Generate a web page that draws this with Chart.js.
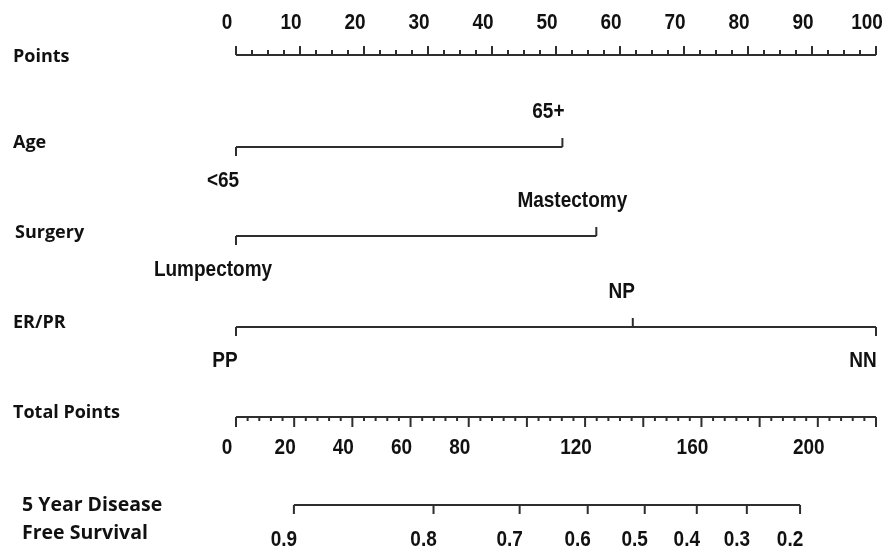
<!DOCTYPE html>
<html>
<head>
<meta charset="utf-8">
<script src="https://cdn.jsdelivr.net/npm/chart.js@4.4.1/dist/chart.umd.min.js"></script>
<style>
  html, body { margin: 0; padding: 0; background: #fff; }
  #wrap { width: 882px; height: 547px; position: relative; }
</style>
</head>
<body>
<div id="wrap"><canvas id="c"></canvas></div>
<script>
// ---------- DATA ----------
const pointsTickValues = [0, 10, 20, 30, 40, 50, 60, 70, 80, 90, 100];
const ageLevels = ['<65', '65+'];
const agePoints = [0, 51];
const surgeryLevels = ['Lumpectomy', 'Mastectomy'];
const surgeryPoints = [0, 56.3];
const erprLevels = ['PP', 'NP', 'NN'];
const erprPoints = [0, 62, 100];
const totalPointsTicks = [0, 20, 40, 60, 80, 100, 120, 140, 160, 180, 200, 220];
const totalPointsLabels = [0, 20, 40, 60, 80, 120, 160, 200];
const survivalLabels = ['0.9', '0.8', '0.7', '0.6', '0.5', '0.4', '0.3', '0.2'];
const survivalTotalPoints = [19.9, 67.9, 97.5, 120.9, 140.5, 158.4, 175.6, 193.9];
const rowTitles = ['Points', 'Age', 'Surgery', 'ER/PR', 'Total Points', '5 Year Disease', 'Free Survival'];

// ---------- LAYOUT / STYLE ----------
const ROW = { points: 55, age: 147, surgery: 236, erpr: 327, total: 417, surv: 505 };
const TITLE_Y = [57, 143, 233, 323, 413, 505, 533];
const TITLE_X = [13, 13, 15, 13, 13, 22, 22];
const TITLE_SIZE = [18, 18, 18, 18, 18, 19.5, 19.5];
const X_MIN = -36.875, X_MAX = 100.9375;       // points scale so 0->236px, 100->876px
const TP_PER_POINT = 2.2;                       // total points per point (0..220 over 0..100)
const LINE = '#2e2e2e';
const TXT = '#111111';
const NUM_FONT = 'bold 19px "Liberation Sans", Arial, sans-serif';
const V_STRETCH = 1.12;
const levelDx = { '<65': -13, '65+': -14, 'Lumpectomy': -23, 'Mastectomy': -24, 'PP': -11, 'NP': -11, 'NN': -13 };

// ---------- build segment datasets ----------
function seg(arr, x0, y0, x1, y1) {
  arr.push({ x: x0, y: y0 }, { x: x1, y: y1 }, { x: x0, y: null });
}
// Points axis
const pointsData = [];
seg(pointsData, 0, ROW.points, 100, ROW.points);
for (let v = 0; v <= 100 + 1e-9; v += 2.5) {
  const major = Math.abs(v % 10) < 1e-9;
  seg(pointsData, v, ROW.points, v, ROW.points - (major ? 9 : 5));
}
// categorical predictors
function predictor(levels, pts, rowY, sides) {
  const d = [];
  seg(d, Math.min(...pts), rowY, Math.max(...pts), rowY);
  pts.forEach((p, i) => seg(d, p, rowY, p, rowY + (sides[i] === 'up' ? -9 : 9)));
  return d;
}
const ageSides = ['down', 'up'];
const surgerySides = ['down', 'up'];
const erprSides = ['down', 'up', 'down'];
const ageData = predictor(ageLevels, agePoints, ROW.age, ageSides);
const surgeryData = predictor(surgeryLevels, surgeryPoints, ROW.surgery, surgerySides);
const erprData = predictor(erprLevels, erprPoints, ROW.erpr, erprSides);
// Total points axis
const totalData = [];
seg(totalData, 0, ROW.total, 220, ROW.total);
for (let v = 0; v <= 220 + 1e-9; v += 4) {
  const major = totalPointsTicks.includes(v);
  if (!major) seg(totalData, v, ROW.total, v, ROW.total + 4);
}
totalPointsTicks.forEach(v => seg(totalData, v, ROW.total, v, ROW.total + 10));
// Survival axis
const survData = [];
seg(survData, Math.min(...survivalTotalPoints), ROW.surv, Math.max(...survivalTotalPoints), ROW.surv);
survivalTotalPoints.forEach(v => seg(survData, v, ROW.surv, v, ROW.surv + 9));

function ds(data, axis) {
  return {
    data, xAxisID: axis, yAxisID: 'y', showLine: true, spanGaps: false,
    borderColor: LINE, borderWidth: 2, pointRadius: 0, pointHoverRadius: 0,
    borderCapStyle: 'butt', tension: 0
  };
}

// ---------- text plugin ----------
const textPlugin = {
  id: 'nomoText',
  afterDatasetsDraw(chart) {
    const ctx = chart.ctx;
    const xs = chart.scales.x, x2 = chart.scales.x2, ys = chart.scales.y;
    function put(t, x, y) {
      ctx.save();
      ctx.translate(x, y);
      ctx.scale(1, V_STRETCH);
      ctx.fillText(t, 0, 0);
      ctx.restore();
    }
    ctx.save();
    ctx.fillStyle = TXT;
    ctx.textBaseline = 'middle';
    // row titles
    ctx.textAlign = 'left';
    rowTitles.forEach((t, i) => {
      ctx.font = 'bold ' + TITLE_SIZE[i] + 'px "Open Sans", "Liberation Sans", sans-serif';
      ctx.fillText(t, TITLE_X[i], ys.getPixelForValue(TITLE_Y[i]));
    });
    // numeric & level labels
    ctx.font = NUM_FONT;
    ctx.textAlign = 'center';
    pointsTickValues.forEach(v => put(String(v), xs.getPixelForValue(v) - 9, ys.getPixelForValue(ROW.points - 32)));
    function lev(levels, pts, rowY, sides) {
      levels.forEach((l, i) => {
        const y = sides[i] === 'up' ? rowY - 35 : rowY + 34;
        put(l, xs.getPixelForValue(pts[i]) + (levelDx[l] || 0), ys.getPixelForValue(y));
      });
    }
    lev(ageLevels, agePoints, ROW.age, ageSides);
    lev(surgeryLevels, surgeryPoints, ROW.surgery, surgerySides);
    lev(erprLevels, erprPoints, ROW.erpr, erprSides);
    totalPointsLabels.forEach(v => put(String(v), x2.getPixelForValue(v) - 9, ys.getPixelForValue(ROW.total + 31)));
    survivalLabels.forEach((l, i) => put(l, x2.getPixelForValue(survivalTotalPoints[i]) - 10, ys.getPixelForValue(ROW.surv + 35)));
    ctx.restore();
  }
};

new Chart(document.getElementById('c'), {
  type: 'scatter',
  data: {
    datasets: [
      ds(pointsData, 'x'), ds(ageData, 'x'), ds(surgeryData, 'x'), ds(erprData, 'x'),
      ds(totalData, 'x2'), ds(survData, 'x2')
    ]
  },
  options: {
    responsive: true, maintainAspectRatio: false, animation: false, events: [],
    layout: { padding: 0 },
    plugins: { legend: { display: false }, tooltip: { enabled: false }, title: { display: false } },
    scales: {
      x: { type: 'linear', min: X_MIN, max: X_MAX, display: false },
      x2: { type: 'linear', axis: 'x', min: X_MIN * TP_PER_POINT, max: X_MAX * TP_PER_POINT, display: false },
      y: { type: 'linear', min: 0, max: 547, reverse: true, display: false }
    }
  },
  plugins: [textPlugin]
});
</script>
</body>
</html>
